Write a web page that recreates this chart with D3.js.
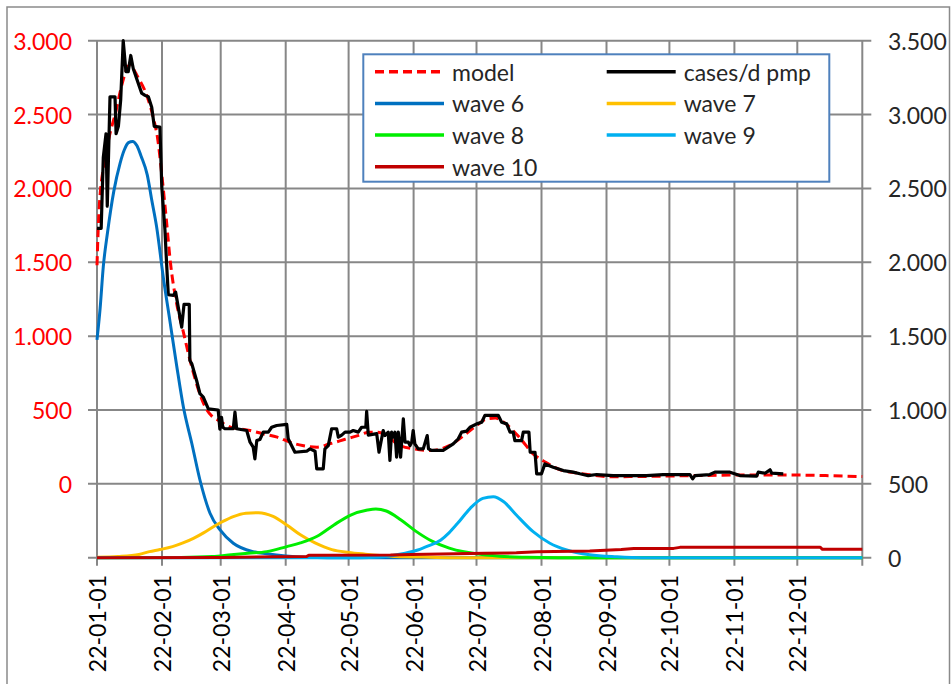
<!DOCTYPE html>
<html><head><meta charset="utf-8">
<script src="https://cdn.jsdelivr.net/npm/d3@7"></script>
<style>
html,body{margin:0;padding:0;background:#fff;}
svg{display:block;font-family:Lato,"Open Sans",sans-serif;}
</style></head>
<body><svg id="c" width="952" height="684"></svg>
<script>
// ---- data (day offset from 2022-01-01, value) ----
const caseDay = [0,2,3,4.3,4.9,6.2,8.6,9.1,10.2,11.3,12.5,13.8,14.9,16.1,17.3,19.7,21.3,22.9,24.5,26.1,27.3,30,30.9,32.4,33.2,34,36.4,37.5,40.4,41.5,44,44.3,45.2,47.5,49.1,50.7,53.1,57.8,58.6,59.4,60,61,65,65.8,66.6,71.4,73,74.5,75.3,76.2,77.7,79.3,81.7,83.3,85.7,90.5,91.2,92,94.4,100,101.6,104,104.8,107.9,108.7,110.3,111.9,114.3,115.1,116.7,118.3,120.7,122.2,124.6,126.2,128.2,128.6,129.4,133.4,134.5,136.5,137.3,138.9,139.7,140.5,141.3,142.1,142.9,143.7,144.8,146.1,146.9,148.5,149.3,150.1,150.8,151.6,153.2,155.6,157.5,158.1,159.6,165.1,167.5,169.9,172.3,173.9,176.3,177.9,181.1,183.5,185,191.4,193,195.4,197,198.5,199.3,202.5,203.3,206,206.6,208.9,209.7,212,213.6,217.6,222.4,227.1,230.3,234.3,238.3,246.2,262.1,270,282.8,284.1,285.2,292.3,294.7,301.9,306.6,314.6,315.4,318.6,321,321.8,327.3];
const caseValue = [1730,1730,2210,2370,1880,2620,2620,2370,2420,2600,3000,2790,2790,2900,2810,2710,2645,2630,2620,2550,2420,2415,2010,1720,1490,1280,1276,1298,1061,1215,1215,835,813,700,610,587,508,500,370,450,383,373,373,485,373,361,282,248,169,293,300,350,350,383,395,402,305,282,214,221,237,221,102,102,237,259,373,373,316,330,350,350,361,350,383,383,490,330,340,214,361,327,350,158,350,316,350,180,350,180,440,282,282,259,282,361,270,237,237,327,237,226,226,248,271,305,350,357,383,406,417,463,463,417,406,350,350,293,293,350,350,214,214,68,68,135,113,90,79,68,56,63,56,56,63,63,34,56,63,79,79,56,52,79,72,95,72,68];

const modelDay = [0,1,4,6,9,11,13,15,17,19,24,27,29,31,33,35,38,41,44,47,52,55,58,63,73,79,86,92,98,105,111,118,124,130,134,138,143,151,160,168,175,181,186,190,195,202,208,214,221,228,235,245,260,285,310,330,350,365];
const modelValue = [1480,1860,2210,2360,2520,2650,2760,2830,2815,2766,2619,2470,2330,2080,1800,1500,1220,1039,858,700,510,455,429,388,361,339,316,282,259,248,271,300,325,350,350,330,271,237,226,259,327,395,440,445,406,305,203,146,95,75,61,48,50,56,60,60,55,49];

const wave6Day = [0,1.5,3,5,8,11,13,15,17,19,21,24,26,28.4,31.6,34.8,38,41.2,45.2,49.1,53.9,58.7,65,74.5,80.9,90,100,110,365];
const wave6Value = [1475,1690,1970,2200,2480,2670,2760,2810,2818,2790,2720,2590,2430,2243,1900,1600,1300,1020,775,526,301,188,98,41,27,12,3,0,0];

const wave7Day = [0,10,20,25,30,36,41,46,51,55.5,60,65,71,77,84,90.5,97,104,112,120,128,140,155,170,365];
const wave7Value = [3,8,22,41,55,75,100,131,170,210,245,278,301,305,280,222,155,100,55,36,24,10,4,0,0];

const wave8Day = [0,40,55,64,72,81,90.5,97,105,113,121,129,133,138,145,152,160,168,175,180,192,205,220,365];
const wave8Value = [0,2,8,20,30,41,75,100,145,222,289,323,330,316,255,180,110,65,40,28,10,3,0,0];

const wave9Day = [0,125,135,141,147,153,158,164,168,172,178,184,189,194,200,208,216,224,235,248,260,365];
const wave9Value = [0,0,5,15,30,52,80,120,170,233,334,402,413,379,289,176,98,52,20,6,0,0];

const wave10Day = [0,60,100,101,140,150,185,200,210,235,250,256,275,278,345,346,365];
const wave10Value = [0,2,8,17,18,22,30,33,40,46,55,62,63,70,70,57,57];

const leftTicks = [0,500,1000,1500,2000,2500,3000];
const rightTicks = [0,500,1000,1500,2000,2500,3000,3500];
const monthTicks = ["2022-01-01","2022-02-01","2022-03-01","2022-04-01","2022-05-01","2022-06-01","2022-07-01","2022-08-01","2022-09-01","2022-10-01","2022-11-01","2022-12-01"];

// ---- drawing ----
const svg = d3.select("#c");
const L = 97, R = 862.3, T = 40.7, B = 557.7;
const t0 = Date.UTC(2022,0,1);
const toDate = d => new Date(t0 + d*864e5);
const x = d3.scaleUtc().domain([new Date(t0), new Date(Date.UTC(2023,0,1))]).range([L, R]);
const yL = d3.scaleLinear().domain([-500, 3000]).range([B, T]);
const yR = d3.scaleLinear().domain([0, 3500]).range([B, T]);
const loc = d3.formatLocale({decimal:",", thousands:".", grouping:[3], currency:["",""]});
const fmt = loc.format(",d");
const grid = "#878787";

// outer frame
svg.append("rect").attr("x",7).attr("y",7).attr("width",942.5).attr("height",700)
  .attr("fill","none").attr("stroke","#8a8a8a").attr("stroke-width",1.5);

// gridlines
const gridTicks = d3.range(-500, 3001, 500);
svg.append("g").selectAll("line").data(gridTicks).join("line")
  .attr("x1", L-9).attr("x2", R+9).attr("y1", d=>yL(d)).attr("y2", d=>yL(d))
  .attr("stroke", grid).attr("stroke-width", 2);
const vTicks = monthTicks.map(s => new Date(s+"T00:00:00Z")).concat([new Date(Date.UTC(2023,0,1))]);
svg.append("g").selectAll("line").data(vTicks).join("line")
  .attr("x1", d=>x(d)).attr("x2", d=>x(d)).attr("y1", T).attr("y2", B+8)
  .attr("stroke", grid).attr("stroke-width", 2);

// left labels
svg.append("g").selectAll("text").data(leftTicks).join("text")
  .attr("x", 72).attr("y", d=>yL(d)).attr("text-anchor","end").attr("dominant-baseline","central")
  .attr("fill","#ff0000").attr("font-size",23).text(d=>fmt(d));
// right labels
svg.append("g").selectAll("text").data(rightTicks).join("text")
  .attr("x", 888).attr("y", d=>yR(d)).attr("text-anchor","start").attr("dominant-baseline","central")
  .attr("fill","#262626").attr("font-size",23).text(d=>fmt(d));
// x labels
const xf = d3.utcFormat("%y-%m-%d");
svg.append("g").selectAll("text").data(vTicks.slice(0,12)).join("text")
  .attr("transform", d=>`translate(${x(d)},575) rotate(-90)`)
  .attr("text-anchor","end").attr("dominant-baseline","central")
  .attr("fill","#000").attr("font-size",23).text(d=>xf(d));

// lines
const lineL = d3.line().x(p=>x(toDate(p[0]))).y(p=>yL(p[1]));
const lineR = d3.line().x(p=>x(toDate(p[0]))).y(p=>yR(p[1]));
const zip = (a,b) => a.map((d,i)=>[d,b[i]]);
const g = svg.append("g").attr("fill","none").attr("stroke-linejoin","round");

g.append("path").attr("d", lineL.curve(d3.curveMonotoneX)(zip(modelDay, modelValue)))
  .attr("stroke","#ff0000").attr("stroke-width",3).attr("stroke-dasharray","9,5");
g.append("path").attr("d", lineL.curve(d3.curveLinear)(zip(caseDay, caseValue)))
  .attr("stroke","#000").attr("stroke-width",3.2);
const waves = [
  [wave6Day, wave6Value, "#0070c0", d3.curveMonotoneX],
  [wave7Day, wave7Value, "#ffc000", d3.curveMonotoneX],
  [wave8Day, wave8Value, "#00ee00", d3.curveMonotoneX],
  [wave9Day, wave9Value, "#00b0f0", d3.curveMonotoneX],
  [wave10Day, wave10Value, "#c00000", d3.curveLinear]
];
waves.forEach(w => {
  g.append("path").attr("d", lineR.curve(w[3])(zip(w[0], w[1])))
    .attr("stroke", w[2]).attr("stroke-width", 3);
});

// legend
const lg = svg.append("g");
lg.append("rect").attr("x",363.3).attr("y",54.3).attr("width",466).attr("height",127.4)
  .attr("fill","#fff").attr("stroke","#4f81bd").attr("stroke-width",2);
const legendItems = [
  ["model","#ff0000",true],["cases/d pmp","#000",false],
  ["wave 6","#0070c0",false],["wave 7","#ffc000",false],
  ["wave 8","#00ee00",false],["wave 9","#00b0f0",false],
  ["wave 10","#c00000",false]
];
legendItems.forEach((it,i) => {
  const col = i%2, row = Math.floor(i/2);
  const lx = col ? 606.7 : 375, ly = 71.7 + row*31.7;
  lg.append("line").attr("x1",lx).attr("x2",lx+69).attr("y1",ly).attr("y2",ly)
    .attr("stroke",it[1]).attr("stroke-width",3.5)
    .attr("stroke-dasharray", it[2] ? "9,5" : null);
  lg.append("text").attr("x", lx+77).attr("y", ly).attr("dominant-baseline","central")
    .attr("font-size",23).attr("fill","#262626").text(it[0]);
});
</script></body></html>
